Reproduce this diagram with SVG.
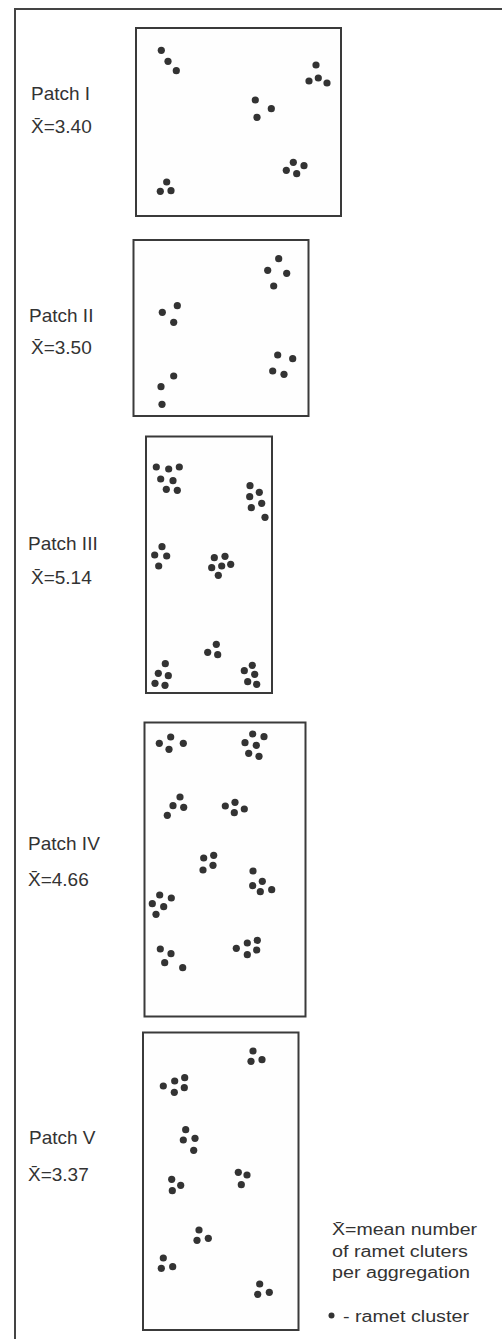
<svg xmlns="http://www.w3.org/2000/svg" width="502" height="1339" viewBox="0 0 502 1339">
<style>
.box{fill:#fefefe;stroke:#3a3a3a;stroke-width:2}
.frame{fill:none;stroke:#444;stroke-width:2}
.lbl{font-family:"Liberation Sans",Arial,sans-serif;font-size:19px;fill:#333}
.leg{font-family:"Liberation Sans",Arial,sans-serif;font-size:16px;fill:#333}
circle{fill:#333}
</style>
<rect width="502" height="1339" fill="#fff"/>
<path class="frame" d="M15,1339 V9 H502"/>
<g id="patch1">
<rect class="box" x="136" y="28" width="205" height="188"/>
<text class="lbl" x="31" y="100">Patch I</text>
<text class="lbl" x="31" y="133">X̄=3.40</text>
<circle cx="161.3" cy="50.3" r="3.6"/><circle cx="168" cy="61.3" r="3.6"/><circle cx="176.3" cy="70.7" r="3.6"/>
<circle cx="316" cy="65" r="3.6"/><circle cx="309" cy="81" r="3.6"/><circle cx="318.3" cy="78" r="3.6"/><circle cx="327" cy="83" r="3.6"/>
<circle cx="255.3" cy="100" r="3.6"/><circle cx="271.3" cy="108.7" r="3.6"/><circle cx="257" cy="117.3" r="3.6"/>
<circle cx="293.3" cy="162.3" r="3.6"/><circle cx="304" cy="165.7" r="3.6"/><circle cx="286.3" cy="170.3" r="3.6"/><circle cx="296.7" cy="173.7" r="3.6"/>
<circle cx="166.7" cy="182" r="3.6"/><circle cx="160.3" cy="191.3" r="3.6"/><circle cx="171" cy="190.7" r="3.6"/>
</g>
<g id="patch2">
<rect class="box" x="133.5" y="240" width="175" height="176"/>
<text class="lbl" x="29" y="322">Patch II</text>
<text class="lbl" x="31" y="354">X̄=3.50</text>
<circle cx="278.7" cy="258.7" r="3.6"/><circle cx="267.7" cy="270.3" r="3.6"/><circle cx="286.7" cy="273.3" r="3.6"/><circle cx="273.7" cy="286" r="3.6"/>
<circle cx="177.3" cy="305.7" r="3.6"/><circle cx="162.3" cy="312.3" r="3.6"/><circle cx="173.7" cy="322.3" r="3.6"/>
<circle cx="277.7" cy="355" r="3.6"/><circle cx="292.7" cy="358.7" r="3.6"/><circle cx="272.7" cy="371" r="3.6"/><circle cx="284" cy="374.3" r="3.6"/>
<circle cx="173.7" cy="376" r="3.6"/><circle cx="161" cy="386.7" r="3.6"/><circle cx="162" cy="404.3" r="3.6"/>
</g>
<g id="patch3">
<rect class="box" x="146" y="436.5" width="126" height="256.5"/>
<text class="lbl" x="28" y="550">Patch III</text>
<text class="lbl" x="31" y="584">X̄=5.14</text>
<circle cx="156.3" cy="467" r="3.6"/><circle cx="168.7" cy="469" r="3.6"/><circle cx="179.3" cy="467" r="3.6"/><circle cx="160.7" cy="479" r="3.6"/><circle cx="173" cy="480.7" r="3.6"/><circle cx="166.3" cy="489.3" r="3.6"/><circle cx="177.3" cy="490.3" r="3.6"/>
<circle cx="250" cy="485.7" r="3.6"/><circle cx="259.3" cy="492.3" r="3.6"/><circle cx="249.7" cy="496.7" r="3.6"/><circle cx="261.7" cy="503.3" r="3.6"/><circle cx="251.3" cy="507.7" r="3.6"/><circle cx="265" cy="517.3" r="3.6"/>
<circle cx="162" cy="546.7" r="3.6"/><circle cx="154.7" cy="555" r="3.6"/><circle cx="166.7" cy="556" r="3.6"/><circle cx="158.7" cy="566" r="3.6"/>
<circle cx="214.3" cy="557.7" r="3.6"/><circle cx="225" cy="556.3" r="3.6"/><circle cx="221.7" cy="566" r="3.6"/><circle cx="230.7" cy="564.3" r="3.6"/><circle cx="211.7" cy="567.7" r="3.6"/><circle cx="218.3" cy="575.3" r="3.6"/>
<circle cx="216.3" cy="644.3" r="3.6"/><circle cx="207.7" cy="652.3" r="3.6"/><circle cx="217.7" cy="654.7" r="3.6"/>
<circle cx="165.3" cy="663.7" r="3.6"/><circle cx="158.3" cy="673.3" r="3.6"/><circle cx="168.3" cy="675.7" r="3.6"/><circle cx="155" cy="683.3" r="3.6"/><circle cx="165" cy="685.3" r="3.6"/>
<circle cx="252.3" cy="665.3" r="3.6"/><circle cx="244.3" cy="670.7" r="3.6"/><circle cx="254.7" cy="674.3" r="3.6"/><circle cx="247.7" cy="681.7" r="3.6"/><circle cx="256.7" cy="684.3" r="3.6"/>
</g>
<g id="patch4">
<rect class="box" x="144.5" y="722.5" width="161" height="294"/>
<text class="lbl" x="28" y="850">Patch IV</text>
<text class="lbl" x="28" y="886">X̄=4.66</text>
<circle cx="170.7" cy="737" r="3.6"/><circle cx="159.3" cy="743.3" r="3.6"/><circle cx="183.3" cy="743.3" r="3.6"/><circle cx="169" cy="749.3" r="3.6"/>
<circle cx="252.7" cy="734" r="3.6"/><circle cx="264" cy="736.7" r="3.6"/><circle cx="245" cy="742.7" r="3.6"/><circle cx="256.3" cy="745.3" r="3.6"/><circle cx="248.7" cy="753.3" r="3.6"/><circle cx="259" cy="756.3" r="3.6"/>
<circle cx="180" cy="797" r="3.6"/><circle cx="173" cy="805.7" r="3.6"/><circle cx="183.7" cy="807.3" r="3.6"/><circle cx="167.3" cy="815.3" r="3.6"/>
<circle cx="225.3" cy="806" r="3.6"/><circle cx="235" cy="802.3" r="3.6"/><circle cx="244.3" cy="809" r="3.6"/><circle cx="234.3" cy="812.7" r="3.6"/>
<circle cx="203.7" cy="858" r="3.6"/><circle cx="213.7" cy="855.3" r="3.6"/><circle cx="213" cy="865.3" r="3.6"/><circle cx="203" cy="870" r="3.6"/>
<circle cx="253" cy="871" r="3.6"/><circle cx="262.3" cy="881.3" r="3.6"/><circle cx="252.7" cy="885.7" r="3.6"/><circle cx="260.3" cy="891.7" r="3.6"/><circle cx="271.7" cy="889.7" r="3.6"/>
<circle cx="159.7" cy="895" r="3.6"/><circle cx="171.3" cy="898" r="3.6"/><circle cx="152.3" cy="903.7" r="3.6"/><circle cx="163.7" cy="906.7" r="3.6"/><circle cx="156" cy="914.3" r="3.6"/>
<circle cx="160.3" cy="949" r="3.6"/><circle cx="171" cy="953.7" r="3.6"/><circle cx="164.7" cy="962.7" r="3.6"/><circle cx="182.7" cy="967.7" r="3.6"/>
<circle cx="257.3" cy="940.3" r="3.6"/><circle cx="247.3" cy="943" r="3.6"/><circle cx="236.3" cy="948.3" r="3.6"/><circle cx="256.7" cy="950" r="3.6"/><circle cx="247.3" cy="954.7" r="3.6"/>
</g>
<g id="patch5">
<rect class="box" x="143" y="1032.5" width="155.5" height="297.5"/>
<text class="lbl" x="29" y="1144">Patch V</text>
<text class="lbl" x="28" y="1181">X̄=3.37</text>
<circle cx="253" cy="1051" r="3.6"/><circle cx="251" cy="1061.3" r="3.6"/><circle cx="262" cy="1059.7" r="3.6"/>
<circle cx="184.7" cy="1077.7" r="3.6"/><circle cx="174.7" cy="1081" r="3.6"/><circle cx="163.3" cy="1086" r="3.6"/><circle cx="184.3" cy="1087.7" r="3.6"/><circle cx="174.3" cy="1092.3" r="3.6"/>
<circle cx="185.7" cy="1129.7" r="3.6"/><circle cx="183.3" cy="1140" r="3.6"/><circle cx="195" cy="1138.3" r="3.6"/><circle cx="193.7" cy="1150.3" r="3.6"/>
<circle cx="238.3" cy="1172.3" r="3.6"/><circle cx="247" cy="1175" r="3.6"/><circle cx="241.3" cy="1184.7" r="3.6"/>
<circle cx="171.7" cy="1179.3" r="3.6"/><circle cx="180.7" cy="1185.3" r="3.6"/><circle cx="172.3" cy="1190.7" r="3.6"/>
<circle cx="199" cy="1230" r="3.6"/><circle cx="197" cy="1240.3" r="3.6"/><circle cx="208.3" cy="1238.3" r="3.6"/>
<circle cx="163.3" cy="1258" r="3.6"/><circle cx="161.3" cy="1268.3" r="3.6"/><circle cx="172.7" cy="1266.7" r="3.6"/>
<circle cx="259.7" cy="1284" r="3.6"/><circle cx="257.7" cy="1294.3" r="3.6"/><circle cx="269.3" cy="1292.3" r="3.6"/>
</g>
<g id="legend">
<text class="leg" x="332" y="1235" textLength="145" lengthAdjust="spacingAndGlyphs">X̄=mean number</text>
<text class="leg" x="332" y="1257" textLength="136" lengthAdjust="spacingAndGlyphs">of ramet cluters</text>
<text class="leg" x="332" y="1278" textLength="138" lengthAdjust="spacingAndGlyphs">per aggregation</text>
<circle cx="331.5" cy="1315.5" r="3"/>
<text class="leg" x="343" y="1322" textLength="126" lengthAdjust="spacingAndGlyphs">- ramet cluster</text>
</g>
<g id="connectors"/>
</svg>
